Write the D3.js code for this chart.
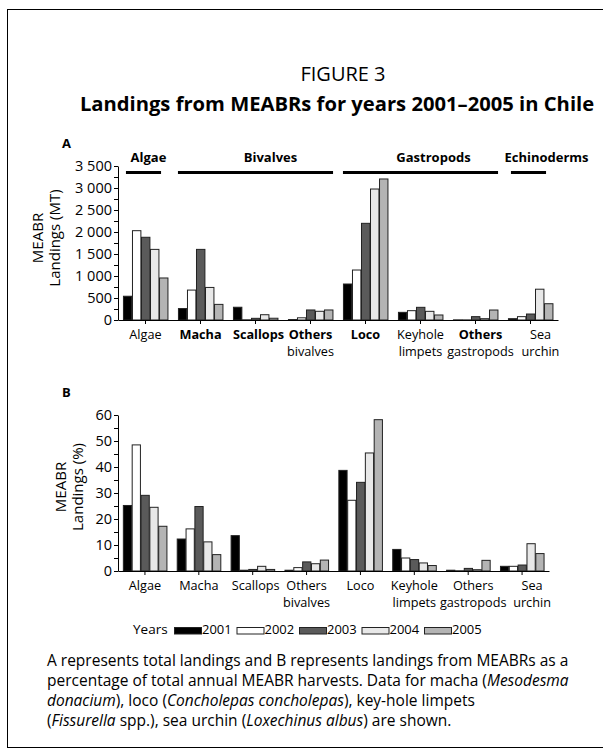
<!DOCTYPE html>
<html><head><meta charset="utf-8">
<script src="https://cdn.jsdelivr.net/npm/d3@7"></script>
<style>body{margin:0;background:#fff}svg{display:block;font-family:"Open Sans",sans-serif}</style>
</head><body><svg id="c" width="603" height="751"></svg>
<script>
// ---------- DATA ----------
const years = ["2001","2002","2003","2004","2005"];
const categories = ["Algae","Macha","Scallops","Others bivalves","Loco","Keyhole limpets","Others gastropods","Sea urchin"];
const categoryLines = [["Algae"],["Macha"],["Scallops"],["Others","bivalves"],["Loco"],["Keyhole","limpets"],["Others","gastropods"],["Sea","urchin"]];
const boldFirstLineA = ["Macha","Scallops","Others bivalves","Loco","Others gastropods"];
// Panel A: landings (MT), one array per year, in category order
const mt2001 = [540, 260, 290, 10, 818, 174, 3, 30];
const mt2002 = [2030, 680, 5, 50, 1136, 212, 3, 76];
const mt2003 = [1880, 1605, 38, 228, 2197, 288, 76, 136];
const mt2004 = [1605, 740, 120, 198, 2977, 197, 30, 700];
const mt2005 = [955, 355, 40, 228, 3205, 114, 227, 370];
// Panel B: landings (%), one array per year
const pct2001 = [25.2, 12.3, 13.6, 0.3, 38.7, 8.3, 0.3, 1.8];
const pct2002 = [48.5, 16.2, 0.3, 1.3, 27.2, 5.0, 0.1, 1.8];
const pct2003 = [29.1, 24.8, 0.6, 3.5, 34.1, 4.4, 1.0, 2.3];
const pct2004 = [24.5, 11.2, 1.8, 2.8, 45.4, 3.1, 0.5, 10.5];
const pct2005 = [17.2, 6.3, 0.6, 4.2, 58.2, 2.1, 4.1, 6.7];
const ticksA = [0,500,1000,1500,2000,2500,3000,3500];
const tickLabelsA = ["0","500","1 000","1 500","2 000","2 500","3 000","3 500"];
const ticksB = [0,10,20,30,40,50,60];
const tickLabelsB = ["0","10","20","30","40","50","60"];
const groups = [
  {name:"Algae", first:"Algae", last:"Algae"},
  {name:"Bivalves", first:"Macha", last:"Others bivalves"},
  {name:"Gastropods", first:"Loco", last:"Others gastropods"},
  {name:"Echinoderms", first:"Sea urchin", last:"Sea urchin"}
];
const yearColors = ["#000000","#ffffff","#5a5a5a","#e8e8e8","#b4b4b4"];

// ---------- LAYOUT ----------
const labelDx = [0,0,3,0,0,0,5,10];
const groupLabelDx = {"Algae":5,"Bivalves":15,"Gastropods":13,"Echinoderms":18};

// ---------- DRAW ----------
const svg = d3.select("#c");
svg.append("rect").attr("x",7.5).attr("y",9.5).attr("width",640).attr("height",738)
  .attr("fill","none").attr("stroke","#000").attr("stroke-width",1);

svg.append("text").attr("x",343).attr("y",81).attr("text-anchor","middle")
  .attr("font-size",20).text("FIGURE 3");
svg.append("text").attr("x",337).attr("y",111).attr("text-anchor","middle")
  .attr("font-size",20.2).attr("font-weight","bold").text("Landings from MEABRs for years 2001\u20132005 in Chile");

function panel(opts){
  const g = svg.append("g");
  const x = d3.scaleBand().domain(categories).range(opts.xRange).paddingInner(0.18).paddingOuter(0.09);
  const xi = d3.scaleBand().domain(years).range([0, x.bandwidth()]);
  const y = d3.scaleLinear().domain(opts.domain).range(opts.yRange);
  const series = opts.series;
  const rows = [];
  categories.forEach((c,ci)=>years.forEach((yr,yi)=>rows.push({c,yr,yi,v:series[yi][ci]})));
  g.selectAll("rect.bar").data(rows).join("rect").attr("class","bar")
    .attr("x",d=>x(d.c)+xi(d.yr)+0.5).attr("width",xi.bandwidth()-0.6)
    .attr("y",d=>y(d.v)).attr("height",d=>y(0)-y(d.v))
    .attr("fill",d=>yearColors[d.yi]).attr("stroke","#222").attr("stroke-width",1);
  // y axis
  const ya = d3.axisLeft(y).tickValues(d3.range(opts.domain[0], opts.domain[1]+1e-9, opts.minor))
    .tickSize(4).tickSizeOuter(0)
    .tickFormat(d=>{const i = opts.ticks.indexOf(d); return i>=0 ? opts.tickLabels[i] : "";});
  const yg = g.append("g").attr("transform",`translate(${opts.xRange[0]},0)`).call(ya);
  yg.selectAll("text").attr("font-size",14.5).attr("font-family","'Open Sans',sans-serif").attr("fill","#000").attr("x",-6);
  yg.selectAll("line,path").attr("stroke","#000");
  // x axis
  const xa = d3.axisBottom(x).tickSize(4).tickSizeOuter(0).tickFormat("");
  const xg = g.append("g").attr("transform",`translate(0,${y(0)})`).call(xa);
  xg.selectAll("line,path").attr("stroke","#000");
  // category labels (one text element per category, lines as tspans)
  categories.forEach((c,ci)=>{
    const cx = x(c)+x.bandwidth()/2+labelDx[ci];
    const t = g.append("text").attr("x",cx).attr("y",opts.labelY)
      .attr("text-anchor","middle").attr("font-size",12.7);
    categoryLines[ci].forEach((ln,li)=>{
      t.append("tspan").attr("x",cx).attr("dy",li===0?0:17.4)
        .attr("font-weight", (opts.boldFirst && li===0 && boldFirstLineA.includes(c)) ? "bold" : "normal")
        .text(ln);
    });
  });
  // y title
  const tl = g.append("text").attr("transform",`translate(${opts.titleX},${opts.titleY}) rotate(-90)`)
    .attr("text-anchor","middle").attr("font-size",15);
  tl.append("tspan").attr("x",0).attr("dy",0).text("MEABR");
  tl.append("tspan").attr("x",0).attr("dy",16.5).text(opts.unitLabel);
  // panel letter
  g.append("text").attr("x",62).attr("y",opts.letterY).attr("font-size",13).attr("font-weight","bold").text(opts.letter);
  return {g,x,y};
}

const A = panel({xRange:[118,558], yRange:[320,166], domain:[0,3500], minor:250,
  ticks:ticksA, tickLabels:tickLabelsA, series:[mt2001,mt2002,mt2003,mt2004,mt2005],
  labelY:338.5, boldFirst:true, titleX:43, titleY:238, unitLabel:"Landings (MT)", letter:"A", letterY:148});
const B = panel({xRange:[118,549], yRange:[571,415], domain:[0,60], minor:5,
  ticks:ticksB, tickLabels:tickLabelsB, series:[pct2001,pct2002,pct2003,pct2004,pct2005],
  labelY:589.5, boldFirst:false, titleX:66, titleY:487, unitLabel:"Landings (%)", letter:"B", letterY:397});

// group bars for panel A
const insetSingle = [3,7];
groups.forEach(gr=>{
  const single = gr.first===gr.last;
  const x0 = A.x(gr.first) + (single?insetSingle[0]:0);
  const x1 = A.x(gr.last) + A.x.bandwidth() - (single?insetSingle[1]:0);
  svg.append("line").attr("x1",x0).attr("x2",x1).attr("y1",172.5).attr("y2",172.5)
    .attr("stroke","#000").attr("stroke-width",3);
  svg.append("text").attr("x",(x0+x1)/2+groupLabelDx[gr.name]).attr("y",162)
    .attr("text-anchor","middle").attr("font-size",13).attr("font-weight","bold").text(gr.name);
});

// legend
const lg = svg.append("g");
lg.append("text").attr("x",133).attr("y",634).attr("font-size",13.5).text("Years");
years.forEach((yr,i)=>{
  const lx = 174 + i*62.5;
  lg.append("rect").attr("x",lx+0.5).attr("y",627.5).attr("width",27).attr("height",6.5)
    .attr("fill",yearColors[i]).attr("stroke","#222");
  lg.append("text").attr("x",lx+28).attr("y",634).attr("font-size",13).text(yr);
});

// caption
const capLines = [
  [["A represents total landings and B represents landings from MEABRs as a",false]],
  [["percentage of total annual MEABR harvests. Data for macha (",false],["Mesodesma",true]],
  [["donacium",true],["), loco (",false],["Concholepas concholepas",true],["), key-hole limpets",false]],
  [["(",false],["Fissurella",true],[" spp.), sea urchin (",false],["Loxechinus albus",true],[") are shown.",false]]
];
capLines.forEach((parts,i)=>{
  const t = svg.append("text").attr("x",47).attr("y",666+i*20).attr("font-size",15.5).attr("xml:space","preserve");
  parts.forEach(p=>t.append("tspan").attr("font-style",p[1]?"italic":"normal").text(p[0]));
});
</script></body></html>
